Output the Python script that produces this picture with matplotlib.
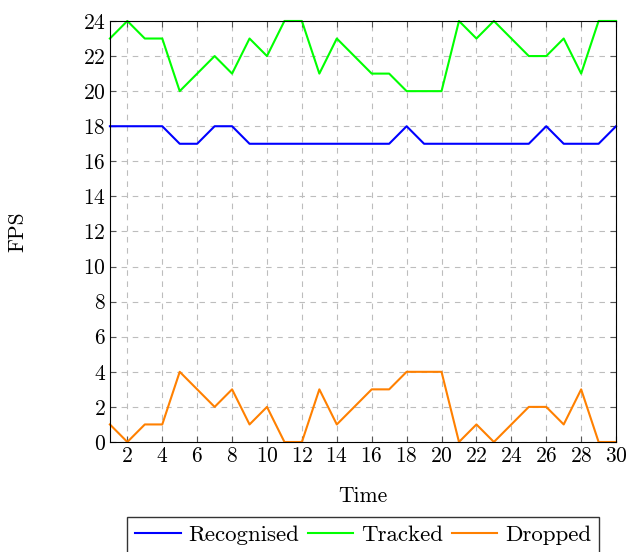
import matplotlib
matplotlib.use('Agg')
import matplotlib.pyplot as plt

plt.rcParams['font.family'] = 'serif'
plt.rcParams['font.serif'] = ['cmr10', 'DejaVu Serif']
plt.rcParams['axes.formatter.use_mathtext'] = True

time = list(range(1, 31))
recognised = [18, 18, 18, 18, 17, 17, 18, 18, 17, 17, 17, 17, 17, 17, 17,
              17, 17, 18, 17, 17, 17, 17, 17, 17, 17, 18, 17, 17, 17, 18]
tracked = [23, 24, 23, 23, 20, 21, 22, 21, 23, 22, 24, 24, 21, 23, 22,
           21, 21, 20, 20, 20, 24, 23, 24, 23, 22, 22, 23, 21, 24, 24]
dropped = [1, 0, 1, 1, 4, 3, 2, 3, 1, 2, 0, 0, 3, 1, 2,
           3, 3, 4, 4, 4, 0, 1, 0, 1, 2, 2, 1, 3, 0, 0]

fs = 15.5
fig = plt.figure(figsize=(6.28, 5.52), dpi=100)
ax = fig.add_axes([0.175, 0.1993, 0.806, 0.7627])

ax.plot(time, recognised, color='#0000ff', lw=1.5, label='Recognised', clip_on=False)
ax.plot(time, tracked, color='#00ff00', lw=1.5, label='Tracked', clip_on=False)
ax.plot(time, dropped, color='#ff8000', lw=1.5, label='Dropped', clip_on=False)

ax.set_xlim(1, 30)
ax.set_ylim(0, 24)
ax.set_xticks(range(2, 31, 2))
ax.set_yticks(range(0, 25, 2))
ax.grid(True, color='#bdbdbd', linestyle=(0, (5, 5)), lw=0.8)
ax.set_axisbelow(True)
ax.tick_params(direction='in', top=True, right=True, labelsize=fs, length=4,
               color='#555555', pad=3)
for s in ax.spines.values():
    s.set_linewidth(0.8)

ax.set_xlabel('Time', fontsize=fs)
ax.xaxis.set_label_coords(0.5, -0.105)
ax.set_ylabel('FPS', fontsize=fs)
ax.yaxis.set_label_coords(-0.164, 0.5)

ax.legend(loc='upper center', bbox_to_anchor=(0.5, -0.178), ncol=3, fontsize=16.5,
          frameon=True, fancybox=False, edgecolor='black', handlelength=2.0,
          handletextpad=0.33, columnspacing=0.37, borderpad=0.35, borderaxespad=0)

fig.savefig('out.png', dpi=100)
